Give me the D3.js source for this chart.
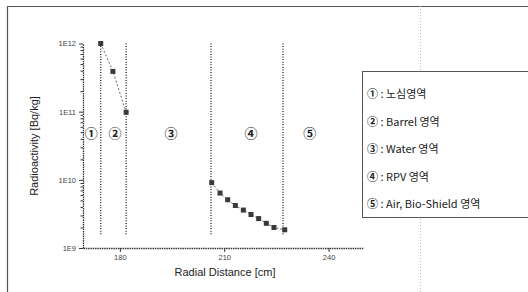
<!DOCTYPE html>
<html><head><meta charset="utf-8">
<script src="https://cdn.jsdelivr.net/npm/d3@7"></script>
<style>body{margin:0;background:#fff}svg{display:block}</style>
</head><body>
<svg id="c" width="528" height="292"></svg>
<script>
const boundaryX = [174.5, 181.8, 206.2, 226.9];
const coreX = [174.5, 178.0, 181.8];
const coreY = [1e12, 3.9e11, 9.8e10];
const rpvX = [206.4, 208.8, 211.0, 213.2, 215.5, 217.7, 219.9, 222.1, 224.3, 227.4];
const rpvY = [9.1e9, 6.4e9, 5.1e9, 4.2e9, 3.6e9, 3.1e9, 2.7e9, 2.3e9, 2.0e9, 1.85e9];
const regionLabels = ["①", "②", "③", "④", "⑤"];
const regionLabelX = [171.8, 178.6, 194.7, 217.7, 234.6];
const legendMarks = ["①", "②", "③", "④", "⑤"];
const legendLabels = [" : 노심영역", " : Barrel 영역", " : Water 영역", " : RPV 영역", " : Air, Bio-Shield 영역"];
const xTicks = [180, 210, 240];
const yTicks = [1e9, 1e10, 1e11, 1e12];
const yTickLabels = ["1E9", "1E10", "1E11", "1E12"];

const svg = d3.select("#c");
const font = "Liberation Sans, Arial, sans-serif";
const cjk = "Noto Sans CJK KR, DejaVu Sans, sans-serif";
const x = d3.scaleLinear().domain([169.4, 249.9]).range([83, 363]);
const y = d3.scaleLog().domain([1e9, 1e12]).range([248, 43.5]);
const ink = "#333";

// outer frame
svg.append("path").attr("d", "M7.5,292 V6.5 H528").attr("fill", "none").attr("stroke", "#555").attr("stroke-width", 1.2);
svg.append("line").attr("x1", 420.5).attr("x2", 420.5).attr("y1", 6).attr("y2", 292)
  .attr("stroke", "#bbb").attr("stroke-dasharray", "1,2");

// axes
const gx = svg.append("g").attr("transform", "translate(0,248)")
  .call(d3.axisBottom(x).tickValues(xTicks).tickSize(4).tickSizeOuter(0).tickFormat(d3.format("d")));
const minorY = [];
for (let e = 9; e < 12; e++) for (let m = 2; m <= 9; m++) minorY.push(m * Math.pow(10, e));
svg.append("g").attr("transform", "translate(83,0)")
  .call(d3.axisLeft(y).tickValues(minorY).tickSize(2.5).tickFormat("").tickSizeOuter(0))
  .call(g => g.select(".domain").remove())
  .call(g => g.selectAll(".tick line").attr("stroke", ink));
const gy = svg.append("g").attr("transform", "translate(83,0)")
  .call(d3.axisLeft(y).tickValues(yTicks).tickSize(4).tickSizeOuter(0).tickFormat((d, i) => yTickLabels[i]));
[gx, gy].forEach(g => {
  g.select(".domain").attr("stroke", ink).attr("stroke-dasharray", "1.5,0.8").attr("stroke-width", 1.3);
  g.selectAll(".tick line").attr("stroke", ink);
  g.selectAll(".tick text").attr("font-family", font).attr("font-size", 7.5).attr("fill", "#444");
});

// boundaries
svg.append("g").selectAll("line").data(boundaryX).join("line")
  .attr("x1", d => x(d)).attr("x2", d => x(d))
  .attr("y1", y(1e12)).attr("y2", y(1.55e9))
  .attr("stroke", "#222").attr("stroke-width", 1.3).attr("stroke-dasharray", "1,1.6");

// series
const line = d3.line().x(d => x(d[0])).y(d => y(d[1]));
[[coreX, coreY], [rpvX, rpvY]].forEach(([xs, ys]) => {
  const pts = xs.map((v, i) => [v, ys[i]]);
  svg.append("path").datum(pts).attr("d", line).attr("fill", "none")
    .attr("stroke", "#666").attr("stroke-width", 1).attr("stroke-dasharray", "2,2");
  svg.append("g").selectAll("rect").data(pts).join("rect")
    .attr("x", d => x(d[0]) - 2.5).attr("y", d => y(d[1]) - 2.5)
    .attr("width", 5).attr("height", 5).attr("fill", "#3a3a3a");
});

// region labels
svg.append("g").selectAll("text").data(regionLabels).join("text")
  .attr("x", (d, i) => x(regionLabelX[i])).attr("y", y(4.9e10))
  .attr("text-anchor", "middle").attr("dominant-baseline", "central")
  .attr("font-family", cjk).attr("font-size", 13).attr("font-weight", "bold").attr("fill", "#222")
  .text(d => d);

// axis titles
svg.append("text").attr("x", 225).attr("y", 276).attr("text-anchor", "middle")
  .attr("font-family", font).attr("font-size", 11).attr("fill", "#222").text("Radial Distance [cm]");
svg.append("text").attr("transform", "translate(38,146) rotate(-90)").attr("text-anchor", "middle")
  .attr("font-family", font).attr("font-size", 11).attr("fill", "#222").text("Radioactivity [Bq/kg]");

// legend
svg.append("rect").attr("x", 362.5).attr("y", 71.5).attr("width", 180).attr("height", 146)
  .attr("fill", "#fff").attr("stroke", "#555").attr("stroke-width", 1);
const lt = svg.append("g").selectAll("text").data(legendLabels).join("text")
  .attr("x", 367).attr("y", (d, i) => 93 + i * 27.6).attr("dominant-baseline", "central")
  .attr("font-family", cjk).attr("font-size", 11).attr("fill", "#222");
lt.append("tspan").attr("font-weight", "bold").text((d, i) => legendMarks[i]);
lt.append("tspan").text(d => d);
</script>
</body></html>
